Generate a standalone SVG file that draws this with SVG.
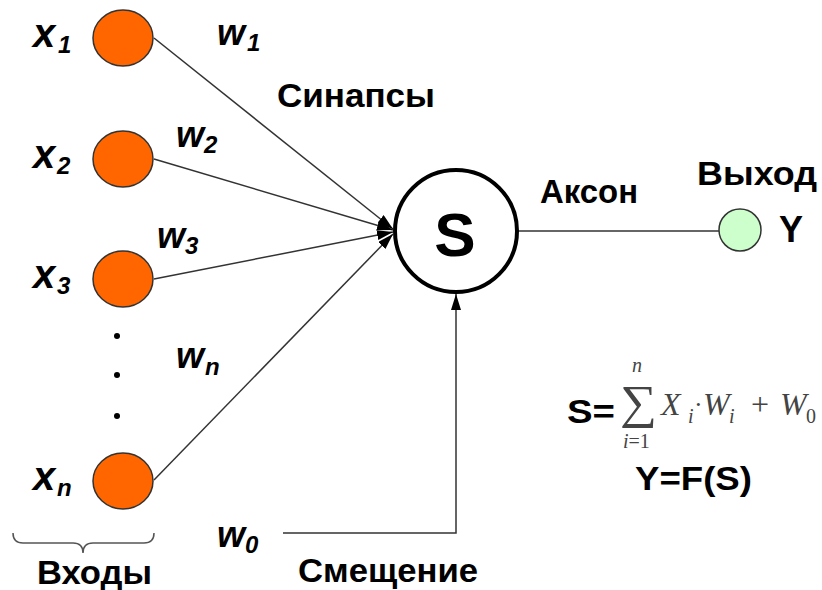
<svg xmlns="http://www.w3.org/2000/svg" width="822" height="590" viewBox="0 0 822 590">
<defs>
<style>
.in{fill:#FF6600;stroke:#333;stroke-width:1.5}
.lbl{font-family:"Liberation Sans",Arial,sans-serif;font-weight:bold;fill:#000}
.var{font-family:"Liberation Sans",Arial,sans-serif;font-weight:bold;font-style:italic;fill:#000}
.vm{font-size:40px}
.vw{font-size:36px}
.vs{font-size:24px}
.cap{font-size:33px}
.fm{font-family:"Liberation Serif","Times New Roman",serif;fill:#444}
.it{font-style:italic}
.con{fill:none;stroke:#333;stroke-width:1.5}
</style>
<marker id="arr" viewBox="0 0 16 10" refX="16" refY="5" markerWidth="16" markerHeight="10" markerUnits="userSpaceOnUse" orient="auto">
<path d="M0,0 L16,5 L0,10 Z" fill="#000"/>
</marker>
</defs>
<rect width="822" height="590" fill="#fff"/>

<g id="connectors">
<line class="con" x1="154" y1="38" x2="393" y2="229" marker-end="url(#arr)"/>
<line class="con" x1="154" y1="159" x2="393" y2="230" marker-end="url(#arr)"/>
<line class="con" x1="154" y1="279" x2="393" y2="232" marker-end="url(#arr)"/>
<line class="con" x1="154" y1="480" x2="393" y2="234" marker-end="url(#arr)"/>
<polyline class="con" points="283,533 456,533 456,294" marker-end="url(#arr)"/>
<line class="con" x1="518" y1="231" x2="719" y2="231"/>
</g>

<g id="x1"><ellipse class="in" cx="123" cy="38" rx="30" ry="28"/>
<text class="var vm" x="33" y="47">x</text><text class="var vs" x="58" y="53">1</text></g>
<g id="x2"><ellipse class="in" cx="123" cy="159" rx="30" ry="28"/>
<text class="var vm" x="33" y="168">x</text><text class="var vs" x="57" y="174">2</text></g>
<g id="x3"><ellipse class="in" cx="123" cy="279" rx="30" ry="28"/>
<text class="var vm" x="33" y="288">x</text><text class="var vs" x="57" y="294">3</text></g>
<g id="xn"><ellipse class="in" cx="123" cy="481" rx="30" ry="28"/>
<text class="var vm" x="33" y="490">x</text><text class="var vs" x="57" y="496">n</text></g>

<g id="dots" fill="#000">
<circle cx="117" cy="336" r="3"/><circle cx="117" cy="375" r="3"/><circle cx="117" cy="416" r="3"/>
</g>

<g id="weights">
<text class="var vw" x="217" y="45">w</text><text class="var vs" x="247" y="51">1</text>
<text class="var vw" x="176" y="147">w</text><text class="var vs" x="204" y="153">2</text>
<text class="var vw" x="157" y="248">w</text><text class="var vs" x="185" y="254">3</text>
<text class="var vw" x="176" y="368">w</text><text class="var vs" x="205" y="375">n</text>
<text class="var vw" x="217" y="547">w</text><text class="var vs" x="245" y="553">0</text>
</g>

<g id="neuron">
<circle cx="456" cy="231" r="61" fill="#fff" stroke="#000" stroke-width="4"/>
<text class="lbl" x="455" y="256" font-size="62" text-anchor="middle">S</text>
</g>

<g id="output">
<circle cx="740" cy="230" r="21" fill="#CCFFCC" stroke="#333" stroke-width="1.5"/>
<text class="lbl" x="779" y="242" font-size="36">Y</text>
</g>

<g id="labels">
<text class="lbl cap" x="277" y="107" textLength="158" lengthAdjust="spacingAndGlyphs">Синапсы</text>
<text class="lbl cap" x="540" y="203" textLength="98" lengthAdjust="spacingAndGlyphs">Аксон</text>
<text class="lbl cap" x="697" y="185" textLength="120" lengthAdjust="spacingAndGlyphs">Выход</text>
<text class="lbl cap" x="37" y="584" textLength="115" lengthAdjust="spacingAndGlyphs">Входы</text>
<text class="lbl cap" x="298" y="582" textLength="180" lengthAdjust="spacingAndGlyphs">Смещение</text>
<path d="M13,533 Q13,543 23,543 L73,543 Q83,543 83,553 Q83,543 93,543 L144,543 Q154,543 154,533" fill="none" stroke="#555" stroke-width="1.5"/>
</g>

<g id="formula">
<text class="lbl cap" x="567" y="423" textLength="48" lengthAdjust="spacingAndGlyphs">S=</text>
<text class="fm" x="620" y="418" font-size="47" textLength="37" lengthAdjust="spacingAndGlyphs">∑</text>
<text class="fm it" x="632" y="372" font-size="20">n</text>
<text class="fm" x="623" y="448" font-size="20"><tspan class="it">i</tspan>=1</text>
<text class="fm it" x="661" y="415" font-size="32">X</text>
<text class="fm it" x="688" y="423" font-size="20">i</text>
<text class="fm" x="694" y="413" font-size="26">·</text>
<text class="fm it" x="703" y="415" font-size="32">W</text>
<text class="fm it" x="729" y="423" font-size="20">i</text>
<text class="fm" x="751" y="415" font-size="32">+</text>
<text class="fm it" x="780" y="415" font-size="32">W</text>
<text class="fm" x="806" y="423" font-size="20">0</text>
<text class="lbl cap" x="635" y="490" textLength="117" lengthAdjust="spacingAndGlyphs">Y=F(S)</text>
</g>
</svg>
